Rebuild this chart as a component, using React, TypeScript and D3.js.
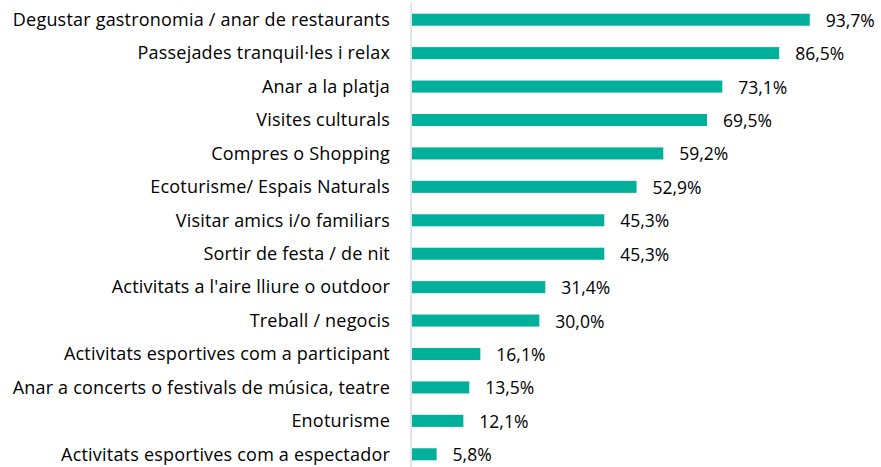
import React from "react";
import * as d3 from "d3";

const categories = [
  "Degustar gastronomia / anar de restaurants",
  "Passejades tranquil·les i relax",
  "Anar a la platja",
  "Visites culturals",
  "Compres o Shopping",
  "Ecoturisme/ Espais Naturals",
  "Visitar amics i/o familiars",
  "Sortir de festa / de nit",
  "Activitats a l'aire lliure o outdoor",
  "Treball / negocis",
  "Activitats esportives com a participant",
  "Anar a concerts o festivals de música, teatre",
  "Enoturisme",
  "Activitats esportives com a espectador",
];
const values = [93.7, 86.5, 73.1, 69.5, 59.2, 52.9, 45.3, 45.3, 31.4, 30.0, 16.1, 13.5, 12.1, 5.8];

const W = 881;
const H = 467;
const x0 = 412;

export default function App() {
  const y = d3.scaleBand<string>().domain(categories).range([3, 471]).paddingInner(0.64).paddingOuter(0.32);
  const x = d3.scaleLinear().domain([0, 100]).range([x0, x0 + 424.5]);
  const fmt = (v: number) => v.toFixed(1).replace(".", ",") + "%";
  const font = "'Open Sans', sans-serif";
  return (
    <svg width={W} height={H} style={{ position: "absolute", left: 0, top: 0, background: "#fff" }}>
      <line x1={x0 - 1} x2={x0 - 1} y1={3} y2={H} stroke="#d6dce4" strokeWidth={1.5} />
      {categories.map((c, i) => {
        const yy = y(c)!;
        const bw = y.bandwidth();
        const cy = yy + bw / 2;
        return (
          <g key={c}>
            <rect x={x0} y={yy} width={x(values[i]) - x0} height={bw} fill="#00b09b" />
            <text x={390} y={cy + 6.3} textAnchor="end" fontFamily={font} fontSize={18} letterSpacing={0.2} fill="#000">
              {c}
            </text>
            <text x={x(values[i]) + 16} y={cy + 7} fontFamily={font} fontSize={17.5} fill="#000">
              {fmt(values[i])}
            </text>
          </g>
        );
      })}
    </svg>
  );
}
